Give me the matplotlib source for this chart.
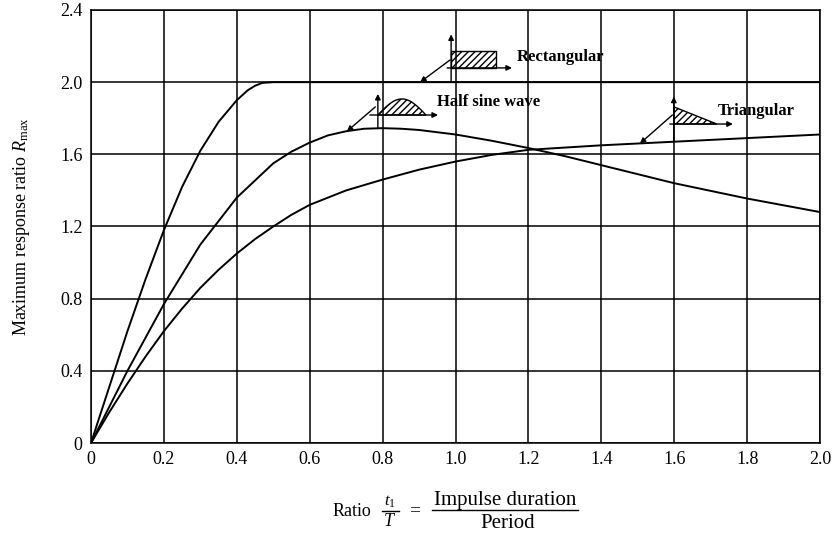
import matplotlib
matplotlib.use("Agg")
import matplotlib.pyplot as plt
from matplotlib.patches import Polygon
from matplotlib.lines import Line2D
import numpy as np

plt.rcParams['font.family'] = ['Liberation Serif', 'DejaVu Serif']
plt.rcParams['mathtext.fontset'] = 'custom'
plt.rcParams['mathtext.rm'] = 'Liberation Serif'
plt.rcParams['mathtext.it'] = 'Liberation Serif:italic'
plt.rcParams['hatch.linewidth'] = 1.0

# Data
rect_x = [0, 0.05, 0.1, 0.15, 0.2, 0.25, 0.3, 0.35, 0.4, 0.43, 0.45, 0.47, 0.5, 1.0, 1.5, 2.0]
rect_y = [0, 0.31, 0.62, 0.91, 1.18, 1.42, 1.62, 1.78, 1.90, 1.955, 1.98, 1.996, 2.0, 2.0, 2.0, 2.0]

sine_x = [0, 0.1, 0.2, 0.3, 0.4, 0.5, 0.55, 0.6, 0.65, 0.7, 0.75, 0.8, 0.85, 0.9, 1.0, 1.1, 1.2,
          1.3, 1.4, 1.5, 1.6, 1.8, 2.0]
sine_y = [0, 0.40, 0.77, 1.10, 1.36, 1.55, 1.615, 1.665, 1.705, 1.728, 1.742, 1.745, 1.742, 1.735,
          1.71, 1.675, 1.635, 1.59, 1.54, 1.49, 1.44, 1.355, 1.28]

tri_x = [0, 0.05, 0.1, 0.15, 0.2, 0.25, 0.3, 0.35, 0.4, 0.45, 0.5, 0.55, 0.6, 0.7, 0.8, 0.9,
         1.0, 1.1, 1.2, 1.4, 1.6, 1.8, 2.0]
tri_y = [0, 0.17, 0.33, 0.48, 0.62, 0.745, 0.86, 0.96, 1.05, 1.13, 1.20, 1.265, 1.32, 1.40,
         1.46, 1.515, 1.56, 1.597, 1.625, 1.65, 1.67, 1.69, 1.71]

x_ticks = [0, 0.2, 0.4, 0.6, 0.8, 1.0, 1.2, 1.4, 1.6, 1.8, 2.0]
x_labels = ['0', '0.2', '0.4', '0.6', '0.8', '1.0', '1.2', '1.4', '1.6', '1.8', '2.0']
y_ticks = [0, 0.4, 0.8, 1.2, 1.6, 2.0, 2.4]
y_labels = ['0', '0.4', '0.8', '1.2', '1.6', '2.0', '2.4']

W, H = 836.0, 535.0
def fx(px):
    return px / W
def fy(py):
    return 1 - py / H

fig = plt.figure(figsize=(8.36, 5.35), dpi=100)
ax = fig.add_axes([fx(91), fy(443), fx(820) - fx(91), fy(10) - fy(443)])
ax.set_xlim(0, 2.0)
ax.set_ylim(0, 2.4)
ax.set_xticks(x_ticks)
ax.set_xticklabels(x_labels)
ax.set_yticks(y_ticks)
ax.set_yticklabels(y_labels)
ax.tick_params(axis='x', length=0, labelsize=13, pad=6)
ax.tick_params(axis='y', length=0, labelsize=13, pad=6)
ax.grid(True, color='black', linewidth=1.1)
for s in ax.spines.values():
    s.set_linewidth(1.1)

lw = 1.4
ax.plot(rect_x, rect_y, color='black', lw=lw)
ax.plot(sine_x, sine_y, color='black', lw=lw)
ax.plot(tri_x, tri_y, color='black', lw=lw)

arr = dict(arrowstyle='-|>', color='black', lw=1.0, mutation_scale=8, shrinkA=0, shrinkB=0)

def icon_axes(x0, yb, xl, xr, ytop, ybot):
    ax.annotate('', xy=(xr, yb), xytext=(xl, yb), arrowprops=arr)
    ax.annotate('', xy=(x0, ytop), xytext=(x0, ybot), arrowprops=arr)

# Rectangular icon
icon_axes(0.988, 2.079, 0.977, 1.155, 2.265, 2.0)
ax.add_patch(Polygon([[0.988, 2.079], [0.988, 2.173], [1.111, 2.173], [1.111, 2.079]],
                     closed=True, fill=False, hatch='/////', lw=1.0, ec='black'))
ax.annotate('', xy=(0.903, 2.0), xytext=(0.985, 2.123), arrowprops=arr)
ax.text(1.169, 2.14, 'Rectangular', fontsize=12, weight='bold', va='center', ha='left')

# Half sine icon
icon_axes(0.787, 1.818, 0.765, 0.952, 1.935, 1.745)
t = np.linspace(0, 1, 30)
bx = 0.787 + (0.919 - 0.787) * t
by = 1.818 + 0.089 * np.sin(np.pi * t)
ax.add_patch(Polygon(np.column_stack([bx, by]), closed=True, fill=False,
                     hatch='/////', lw=1.0, ec='black'))
ax.annotate('', xy=(0.702, 1.727), xytext=(0.78, 1.863), arrowprops=arr)
ax.text(0.949, 1.89, 'Half sine wave', fontsize=12, weight='bold', va='center', ha='left')

# Triangular icon
icon_axes(1.599, 1.768, 1.588, 1.761, 1.92, 1.67)
ax.add_patch(Polygon([[1.599, 1.768], [1.599, 1.863], [1.717, 1.768]],
                     closed=True, fill=False, hatch='/////', lw=1.0, ec='black'))
ax.annotate('', xy=(1.506, 1.66), xytext=(1.595, 1.818), arrowprops=arr)
ax.text(1.72, 1.84, 'Triangular', fontsize=12, weight='bold', va='center', ha='left')

ax.set_ylabel(r'Maximum response ratio $\mathit{R}_{\max}$', fontsize=13, labelpad=20)

# x-axis label built from pieces
fig.text(fx(333), fy(512), 'Ratio', fontsize=13, ha='left', va='center')
fig.text(fx(390), fy(502), r'$\mathit{t}_1$', fontsize=12, ha='center', va='center')
fig.text(fx(390), fy(521), r'$\mathit{T}$', fontsize=13, ha='center', va='center')
fig.add_artist(Line2D([fx(382), fx(399)], [fy(511), fy(511)], color='black', lw=1.0))
fig.text(fx(415), fy(511), '=', fontsize=14, ha='center', va='center')
fig.text(fx(505), fy(500), 'Impulse duration', fontsize=15, ha='center', va='center')
fig.add_artist(Line2D([fx(432), fx(578)], [fy(510), fy(510)], color='black', lw=1.0))
fig.text(fx(508), fy(523), 'Period', fontsize=15, ha='center', va='center')

fig.savefig('out.png', dpi=100)
